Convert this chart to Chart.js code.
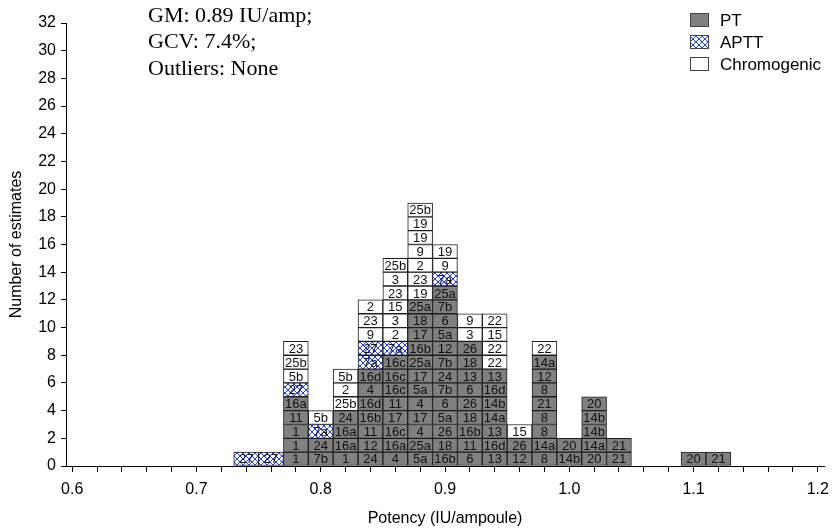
<!DOCTYPE html>
<html>
<head>
<meta charset="utf-8">
<script src="https://cdn.jsdelivr.net/npm/chart.js@4.4.0/dist/chart.umd.min.js"></script>
<style>
  html, body { margin: 0; padding: 0; background: #fff; }
  #wrap { width: 837px; height: 531px; }
</style>
</head>
<body>
<div id="wrap"><canvas id="chart"></canvas></div>
<script>
// bin centres (IU/ampoule), width 0.02
const bins = [0.74, 0.76, 0.78, 0.80, 0.82, 0.84, 0.86, 0.88, 0.90, 0.92, 0.94, 0.96, 0.98, 1.00, 1.02, 1.04, 1.10, 1.12];

// lab codes per bin, from the bottom up
const ptCodes = [
  [], [],
  ["1", "1", "1", "11", "16a"],
  ["7b", "24"],
  ["1", "16a", "16a", "24"],
  ["24", "12", "11", "16b", "16d", "4", "16d"],
  ["4", "16a", "16c", "17", "11", "16c", "16c", "16c"],
  ["5a", "25a", "4", "17", "4", "5a", "17", "25a", "16b", "17", "18", "25a"],
  ["16b", "18", "26", "5a", "6", "7b", "24", "7b", "12", "5a", "6", "7b", "25a"],
  ["6", "11", "16b", "18", "26", "6", "13", "18", "26"],
  ["13", "16d", "13", "14a", "14b", "16d", "13"],
  ["12", "26"],
  ["8", "14a", "8", "8", "21", "8", "12", "14a"],
  ["14b", "20"],
  ["20", "14a", "14b", "14b", "20"],
  ["21", "21"],
  ["20"],
  ["21"]
];
const apttCodes = [
  ["27"], ["27"], ["27"], ["7a"], [], ["7a", "27"], ["7a"], [], ["7a"],
  [], [], [], [], [], [], [], [], []
];
const chromCodes = [
  [], [],
  ["5b", "25b", "23"],
  ["5b"],
  ["25b", "2", "5b"],
  ["9", "23", "2"],
  ["2", "3", "15", "23", "3", "25b"],
  ["19", "23", "2", "9", "19", "19", "25b"],
  ["9", "19"],
  ["3", "9"],
  ["22", "22", "15", "22"],
  ["15"],
  ["22"],
  [], [], [], [], []
];

const seriesNames = ["PT", "APTT", "Chromogenic"];
const xTickLabels = ["0.6", "0.7", "0.8", "0.9", "1.0", "1.1", "1.2"];
const notes = ["GM: 0.89 IU/amp;", "GCV: 7.4%;", "Outliers: None"];

// each estimate is one box sitting on top of the ones below it
const makeBoxes = (codeLists, below) =>
  codeLists.flatMap((codes, i) =>
    codes.map((code, k) => ({ x: bins[i], y: [below[i] + k, below[i] + k + 1], code })));

const zeroBase = bins.map(() => 0);
const ptTop = ptCodes.map(c => c.length);
const apttTop = apttCodes.map((c, i) => ptTop[i] + c.length);

// blue cross hatch for APTT
const hatch = (() => {
  const c = document.createElement("canvas");
  c.width = 6; c.height = 6;
  const g = c.getContext("2d");
  g.fillStyle = "#fff";
  g.fillRect(0, 0, 6, 6);
  g.strokeStyle = "#1a3cff";
  g.lineWidth = 1;
  g.beginPath();
  g.moveTo(0, 0); g.lineTo(6, 6);
  g.moveTo(6, 0); g.lineTo(0, 6);
  g.stroke();
  return g.createPattern(c, "repeat");
})();

const fills = ["#808080", hatch, "#ffffff"];

const barDefaults = {
  grouped: false,
  barPercentage: 1,
  categoryPercentage: 1,
  borderWidth: 1,
  borderColor: "#1e1e1e",
  borderSkipped: false
};

const codeLabels = {
  id: "codeLabels",
  afterDatasetsDraw(chart) {
    const ctx = chart.ctx;
    ctx.save();
    ctx.font = '13px "Liberation Sans", Arial, sans-serif';
    ctx.textAlign = "center";
    ctx.textBaseline = "middle";
    ctx.fillStyle = "#111";
    chart.data.datasets.forEach((ds, di) => {
      chart.getDatasetMeta(di).data.forEach((bar, j) => {
        const p = bar.getProps(["x", "y", "base"], true);
        ctx.fillText(ds.data[j].code, p.x, (p.y + p.base) / 2 + 1);
      });
    });
    ctx.restore();
  }
};

const sideText = {
  id: "sideText",
  afterDraw(chart) {
    const ctx = chart.ctx;
    ctx.save();
    // stats note
    ctx.font = '22px "Liberation Serif", "Times New Roman", serif';
    ctx.fillStyle = "#000";
    ctx.textBaseline = "middle";
    notes.forEach((t, i) => ctx.fillText(t, 148, 16 + i * 26.5));
    // legend
    ctx.font = '17px "Liberation Sans", Arial, sans-serif';
    chart.data.datasets.forEach((ds, i) => {
      const y = 20 + i * 22;
      ctx.fillStyle = ds.backgroundColor;
      ctx.fillRect(690, y - 7, 19, 14);
      ctx.strokeStyle = "#444";
      ctx.lineWidth = 1;
      ctx.strokeRect(690.5, y - 6.5, 18, 13);
      ctx.fillStyle = "#000";
      ctx.fillText(ds.label, 720, y + 1);
    });
    ctx.restore();
  }
};

const xMinor = [];
for (let i = 0; i <= 30; i++) xMinor.push(+(0.6 + i * 0.02).toFixed(2));

new Chart(document.getElementById("chart"), {
  type: "bar",
  data: {
    datasets: [
      { ...barDefaults, label: seriesNames[0], data: makeBoxes(ptCodes, zeroBase), backgroundColor: fills[0] },
      { ...barDefaults, label: seriesNames[1], data: makeBoxes(apttCodes, ptTop), backgroundColor: fills[1] },
      { ...barDefaults, label: seriesNames[2], data: makeBoxes(chromCodes, apttTop), backgroundColor: fills[2] }
    ]
  },
  options: {
    responsive: true,
    maintainAspectRatio: false,
    devicePixelRatio: 1,
    animation: false,
    layout: { padding: { top: 23, right: 9, left: 0, bottom: 0 } },
    plugins: { legend: { display: false }, tooltip: { enabled: false } },
    scales: {
      x: {
        type: "linear",
        min: 0.595,
        max: 1.205,
        offset: false,
        afterBuildTicks: (scale) => { scale.ticks = xMinor.map(v => ({ value: v })); },
        afterFit: (scale) => { scale.height = 65; },
        grid: { offset: false, drawOnChartArea: false, tickLength: 6, color: "#000" },
        border: { color: "#000" },
        ticks: {
          autoSkip: false,
          maxRotation: 0,
          padding: 8,
          color: "#000",
          font: { family: '"Liberation Sans", Arial, sans-serif', size: 16 },
          callback: (v) => {
            const t = Math.round(v * 10);
            return Math.abs(v * 10 - t) < 1e-6 ? xTickLabels[t - 6] : "";
          }
        },
        title: {
          display: true,
          text: "Potency (IU/ampoule)",
          color: "#000",
          padding: { top: 4, bottom: 3 },
          font: { family: '"Liberation Sans", Arial, sans-serif', size: 16 }
        }
      },
      y: {
        min: 0,
        max: 32,
        afterFit: (scale) => { scale.width = 66; },
        grid: { drawOnChartArea: false, tickLength: 5, color: "#000" },
        border: { color: "#000" },
        ticks: {
          stepSize: 2,
          padding: 5,
          color: "#000",
          font: { family: '"Liberation Sans", Arial, sans-serif', size: 16 }
        },
        title: {
          display: true,
          text: "Number of estimates",
          color: "#000",
          padding: { top: 7, bottom: 0 },
          font: { family: '"Liberation Sans", Arial, sans-serif', size: 16 }
        }
      }
    }
  },
  plugins: [codeLabels, sideText]
});
</script>
</body>
</html>
